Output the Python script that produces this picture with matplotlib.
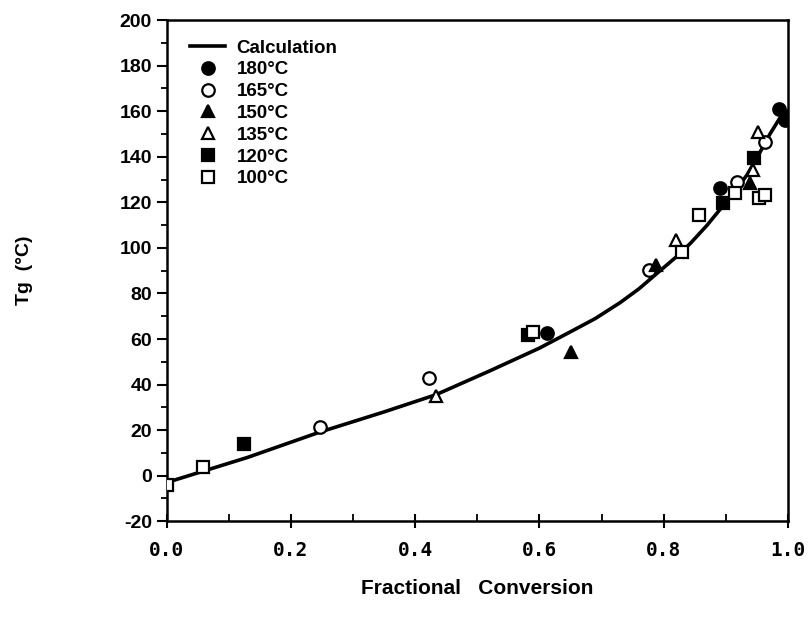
import numpy as np
import matplotlib
matplotlib.use('Agg')
import matplotlib.pyplot as plt
from matplotlib.lines import Line2D

plt.rcParams['font.family'] = ['Liberation Sans', 'DejaVu Sans']
plt.rcParams['font.weight'] = 'bold'
plt.rcParams['axes.unicode_minus'] = False

# calculated curve
calc_x = [0.0, 0.13, 0.245, 0.35, 0.433, 0.52, 0.6, 0.646, 0.69, 0.73, 0.76, 0.79, 0.82, 0.843, 0.87, 0.891, 0.915, 0.934, 0.955, 0.971, 0.987, 1.0]
calc_y = [-3, 8, 19, 28, 35.5, 46, 56, 62.6, 69, 76, 82, 89, 96, 102, 110, 117, 125, 132, 142, 150, 157, 160]

# measured points per cure temperature
t180_x = [0.612, 0.891, 0.986, 0.995]
t180_y = [62.6, 126.4, 161.0, 156.0]
t165_x = [0.247, 0.423, 0.776, 0.918, 0.963]
t165_y = [21.3, 42.9, 90.3, 129.0, 146.6]
t150_x = [0.651, 0.787, 0.939]
t150_y = [54.3, 92.5, 128.6]
t135_x = [0.434, 0.819, 0.944, 0.952]
t135_y = [35.0, 103.5, 134.0, 151.0]
t120_x = [0.125, 0.582, 0.896, 0.946]
t120_y = [13.8, 61.8, 119.8, 139.5]
t100_x = [0.0, 0.058, 0.59, 0.83, 0.857, 0.915, 0.953, 0.963]
t100_y = [-4.0, 4.0, 63.0, 98.2, 114.5, 124.0, 122.0, 123.3]

fig = plt.figure(figsize=(8.09, 6.28), dpi=100)
ax = fig.add_axes([0.206, 0.170, 0.768, 0.798])

ax.plot(calc_x, calc_y, color='black', lw=2.6, zorder=2, solid_joinstyle='round')

ms = 9
mew = 1.6
ax.plot(t180_x, t180_y, 'o', ms=ms, mfc='black', mec='black', mew=mew, zorder=3)
ax.plot(t165_x, t165_y, 'o', ms=ms, mfc='white', mec='black', mew=mew, zorder=3)
ax.plot(t150_x, t150_y, '^', ms=ms, mfc='black', mec='black', mew=mew, zorder=3)
ax.plot(t135_x, t135_y, '^', ms=ms, mfc='white', mec='black', mew=mew, zorder=3)
ax.plot(t120_x, t120_y, 's', ms=ms, mfc='black', mec='black', mew=mew, zorder=3)
ax.plot(t100_x, t100_y, 's', ms=ms, mfc='white', mec='black', mew=mew, zorder=3)

ax.set_xlim(0, 1.0)
ax.set_ylim(-20, 200)
ax.set_xticks(np.arange(0, 1.01, 0.2))
ax.set_xticks(np.arange(0, 1.01, 0.1), minor=True)
ax.set_yticks(np.arange(-20, 201, 20))
ax.set_yticks(np.arange(-20, 201, 10), minor=True)
ax.set_xticklabels(['0.0', '0.2', '0.4', '0.6', '0.8', '1.0'],
                   family='DejaVu Sans Mono', fontweight='bold', fontsize=14)
ax.tick_params(axis='x', which='major', direction='inout', length=10, width=1.5, pad=9)
ax.tick_params(axis='x', which='minor', direction='in', length=5, width=1.3)
ax.tick_params(axis='y', which='major', direction='out', length=7, width=1.5, labelsize=14)
ax.tick_params(axis='y', which='minor', direction='out', length=4, width=1.3)
for s in ax.spines.values():
    s.set_linewidth(1.8)

ax.set_xlabel('Fractional   Conversion', fontsize=15, fontweight='bold', labelpad=14)
ax.set_ylabel('Tg  (°C)', fontsize=14, fontweight='bold', labelpad=62)

handles = [
    Line2D([], [], color='black', lw=2.6),
    Line2D([], [], ls='', marker='o', ms=ms, mfc='black', mec='black', mew=mew),
    Line2D([], [], ls='', marker='o', ms=ms, mfc='white', mec='black', mew=mew),
    Line2D([], [], ls='', marker='^', ms=ms, mfc='black', mec='black', mew=mew),
    Line2D([], [], ls='', marker='^', ms=ms, mfc='white', mec='black', mew=mew),
    Line2D([], [], ls='', marker='s', ms=ms, mfc='black', mec='black', mew=mew),
    Line2D([], [], ls='', marker='s', ms=ms, mfc='white', mec='black', mew=mew),
]
labels = ['Calculation', '180°C', '165°C', '150°C', '135°C', '120°C', '100°C']
ax.legend(handles, labels, loc='upper left', bbox_to_anchor=(0.01, 0.995), frameon=False,
          prop={'size': 13.5, 'weight': 'bold'}, handlelength=1.9, handletextpad=0.6,
          labelspacing=0.25)

fig.savefig('out.png', dpi=100)
